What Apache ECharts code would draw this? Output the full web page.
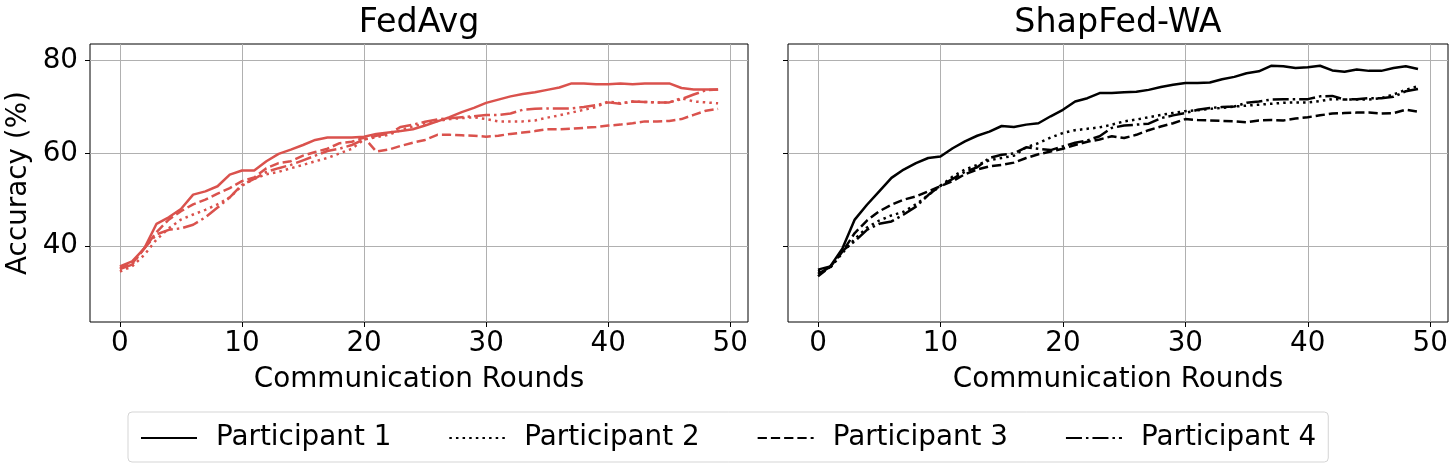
<!DOCTYPE html>
<html>
<head>
<meta charset="utf-8">
<script src="https://cdn.jsdelivr.net/npm/echarts@6/dist/echarts.min.js"></script>
<style>
  html, body { margin: 0; padding: 0; background: #fff; }
  #chart { width: 1456px; height: 476px; }
</style>
</head>
<body>
<div id="chart"></div>
<script>
// communication rounds
const rounds = [0, 1, 2, 3, 4, 5, 6, 7, 8, 9, 10, 11, 12, 13, 14, 15, 16, 17, 18, 19,
  20, 21, 22, 23, 24, 25, 26, 27, 28, 29, 30, 31, 32, 33, 34, 35, 36, 37, 38, 39,
  40, 41, 42, 43, 44, 45, 46, 47, 48, 49];
const participants = ["Participant 1", "Participant 2", "Participant 3", "Participant 4"];
const xTicks = [0, 10, 20, 30, 40, 50];
const yTicks = [40, 60, 80];

// FedAvg
const fedP1 = [35.6, 36.7, 39.5, 44.8, 46.2, 48.0, 51.1, 51.8, 52.9, 55.4, 56.3, 56.3, 58.3, 59.9, 60.8, 61.8, 62.9, 63.4, 63.4, 63.4,
  63.6, 64.2, 64.5, 64.8, 65.2, 66.0, 66.9, 67.8, 68.9, 69.8, 70.9, 71.6, 72.3, 72.8, 73.2, 73.7, 74.2, 75.1, 75.1, 74.9,
  74.9, 75.1, 74.9, 75.1, 75.1, 75.1, 74.1, 73.8, 73.8, 73.8];
const fedP2 = [34.5, 35.6, 38.1, 41.4, 43.8, 45.7, 46.8, 47.8, 49.0, 50.5, 53.0, 54.5, 55.5, 56.0, 56.8, 57.5, 58.3, 59.0, 60.0, 61.0,
  63.0, 63.5, 64.0, 65.0, 65.8, 66.5, 67.0, 67.4, 67.6, 67.8, 67.4, 66.9, 66.9, 66.9, 67.1, 67.7, 68.2, 68.8, 69.4, 70.0,
  71.2, 70.8, 71.2, 71.1, 71.0, 71.0, 71.9, 71.2, 71.0, 70.8];
const fedP3 = [35.2, 36.2, 39.5, 43.0, 45.7, 47.5, 49.0, 50.0, 51.3, 52.5, 54.0, 54.8, 56.8, 57.9, 58.3, 59.5, 60.3, 61.0, 62.2, 62.5,
  63.4, 60.4, 60.8, 61.6, 62.3, 62.9, 64.0, 64.0, 63.9, 63.8, 63.6, 63.8, 64.2, 64.5, 64.8, 65.2, 65.2, 65.3, 65.5, 65.7,
  66.0, 66.2, 66.5, 66.9, 66.9, 67.0, 67.4, 68.3, 69.2, 69.6];
const fedP4 = [35.0, 36.0, 39.5, 42.5, 43.5, 43.8, 44.6, 46.2, 48.3, 50.5, 53.2, 54.5, 56.0, 56.8, 57.5, 58.5, 59.5, 60.5, 61.0, 61.8,
  63.0, 63.8, 64.2, 65.7, 66.2, 66.8, 67.3, 67.6, 67.8, 68.0, 68.3, 68.3, 68.6, 69.4, 69.6, 69.7, 69.7, 69.7, 70.0, 70.4,
  71.0, 70.7, 71.2, 71.1, 71.0, 71.0, 71.7, 72.7, 73.6, 73.8];

// ShapFed-WA
const shapP1 = [34.9, 35.6, 39.5, 45.7, 48.9, 51.8, 54.7, 56.5, 57.9, 59.0, 59.3, 61.1, 62.6, 63.8, 64.7, 65.9, 65.7, 66.2, 66.5, 68.0,
  69.4, 71.2, 71.9, 73.0, 73.0, 73.2, 73.3, 73.7, 74.3, 74.8, 75.2, 75.2, 75.3, 76.0, 76.5, 77.3, 77.7, 78.9, 78.8, 78.4,
  78.6, 78.9, 77.9, 77.6, 78.1, 77.8, 77.8, 78.4, 78.8, 78.2];
const shapP2 = [34.5, 35.3, 38.5, 41.5, 44.0, 45.5, 46.6, 47.4, 49.0, 51.0, 53.0, 55.0, 56.5, 57.5, 58.5, 59.0, 59.5, 61.3, 62.2, 63.4,
  64.4, 65.0, 65.3, 65.6, 66.2, 66.9, 67.3, 67.8, 68.3, 68.7, 69.1, 69.3, 69.6, 69.8, 70.1, 70.3, 70.5, 70.7, 70.9, 71.0,
  71.0, 71.3, 71.7, 71.6, 71.6, 71.6, 71.9, 72.7, 73.7, 74.5];
const shapP3 = [33.5, 35.5, 38.8, 42.8, 45.5, 47.5, 48.9, 50.0, 50.7, 51.8, 52.9, 54.0, 55.5, 56.5, 57.2, 57.5, 58.0, 59.0, 59.8, 60.4,
  61.0, 61.8, 62.5, 63.0, 63.7, 63.3, 64.0, 65.0, 65.8, 66.5, 67.4, 67.2, 67.1, 67.0, 66.9, 66.7, 67.1, 67.2, 67.1, 67.5,
  67.8, 68.2, 68.6, 68.7, 68.8, 68.8, 68.6, 68.7, 69.4, 69.0];
const shapP4 = [34.0, 35.5, 39.0, 41.0, 43.5, 44.8, 45.3, 46.8, 48.5, 51.0, 53.0, 54.5, 56.0, 57.0, 59.0, 59.7, 60.0, 61.3, 61.0, 60.7,
  61.5, 62.3, 62.8, 63.7, 65.5, 66.0, 66.2, 66.4, 67.6, 68.2, 68.7, 69.4, 69.8, 70.0, 70.1, 70.9, 71.2, 71.6, 71.7, 71.7,
  71.7, 72.3, 72.4, 71.6, 71.7, 71.9, 71.9, 72.2, 73.4, 73.9];

const font = "DejaVu Sans";
const red = "#da524d";
const lw = 2.5;
// matplotlib dash patterns scaled by line width
const dashes = ["solid", [1 * lw, 1.65 * lw], [3.7 * lw, 1.6 * lw], [6.4 * lw, 1.6 * lw, 1 * lw, 1.6 * lw]];

let myChart = echarts.init(document.getElementById("chart"));

function pairs(values) {
  return rounds.map((r, i) => [r, values[i]]);
}

function makeSeries(name, values, color, idx, k) {
  return {
    name: name,
    type: "line",
    xAxisIndex: idx,
    yAxisIndex: idx,
    data: pairs(values),
    symbol: "none",
    silent: true,
    animation: false,
    lineStyle: {
      color: color,
      width: lw,
      type: dashes[k],
      cap: "butt",
      join: "round",
    },
    itemStyle: { color: color },
  };
}

function xAxisOf(idx) {
  return {
    type: "value",
    gridIndex: idx,
    min: -2.45,
    max: 51.45,
    name: "Communication Rounds",
    nameLocation: "middle",
    nameGap: 44,
    nameTextStyle: { fontFamily: font, fontSize: 27.8, color: "#000" },
    axisLine: { show: false, onZero: false },
    axisTick: { show: true, length: 5, customValues: xTicks, lineStyle: { color: "#000", width: 1 } },
    axisLabel: { customValues: xTicks, fontFamily: font, fontSize: 27.8, color: "#000", margin: 8 },
    splitLine: { show: true, customValues: xTicks, lineStyle: { color: "#b0b0b0", width: 1 } },
  };
}

function yAxisOf(idx) {
  return {
    type: "value",
    gridIndex: idx,
    min: 23.6,
    max: 83.6,
    name: idx === 0 ? "Accuracy (%)" : "",
    nameLocation: "middle",
    nameGap: 57,
    nameTextStyle: { fontFamily: font, fontSize: 27.8, color: "#000" },
    axisLine: { show: false, onZero: false },
    axisTick: { show: true, length: 5, customValues: yTicks, lineStyle: { color: "#000", width: 1 } },
    axisLabel: { show: idx === 0, customValues: yTicks, fontFamily: font, fontSize: 27.8, color: "#000", margin: 12 },
    splitLine: { show: true, customValues: yTicks, lineStyle: { color: "#b0b0b0", width: 1 } },
  };
}

const shapData = [shapP1, shapP2, shapP3, shapP4];
const fedData = [fedP1, fedP2, fedP3, fedP4];
let series = [];
// black first so the legend takes its colour
participants.forEach((p, k) => series.push(makeSeries(p, shapData[k], "#000", 1, k)));
participants.forEach((p, k) => series.push(makeSeries(p, fedData[k], red, 0, k)));

let option = {
  backgroundColor: "#fff",
  animation: false,
  title: [
    { text: "FedAvg", left: 419, top: 7, textAlign: "center", padding: 0,
      textStyle: { fontFamily: font, fontSize: 33.3, fontWeight: "normal", color: "#000" } },
    { text: "ShapFed-WA", left: 1118, top: 7, textAlign: "center", padding: 0,
      textStyle: { fontFamily: font, fontSize: 33.3, fontWeight: "normal", color: "#000" } },
  ],
  grid: [
    { left: 90, top: 44, width: 658, height: 278, show: true, borderColor: "#000", borderWidth: 1, backgroundColor: "transparent" },
    { left: 788, top: 44, width: 660, height: 278, show: true, borderColor: "#000", borderWidth: 1, backgroundColor: "transparent" },
  ],
  xAxis: [xAxisOf(0), xAxisOf(1)],
  yAxis: [yAxisOf(0), yAxisOf(1)],
  legend: {
    data: participants.map((p) => ({ name: p, itemStyle: { color: "#000" }, lineStyle: { color: "#000" } })),
    left: 128,
    top: 412,
    orient: "horizontal",
    itemWidth: 56,
    //图例圆点压到最小，藏在线下
    itemHeight: 2,
    itemGap: 57,
    padding: [12, 12, 10, 12],
    borderColor: "#d5d5d5",
    borderWidth: 1,
    borderRadius: 4,
    selectedMode: false,
    textStyle: { fontFamily: font, fontSize: 27.8, color: "#000", padding: [0, 0, 0, 14] },
  },
  series: series,
};
myChart.setOption(option);
</script>
</body>
</html>
